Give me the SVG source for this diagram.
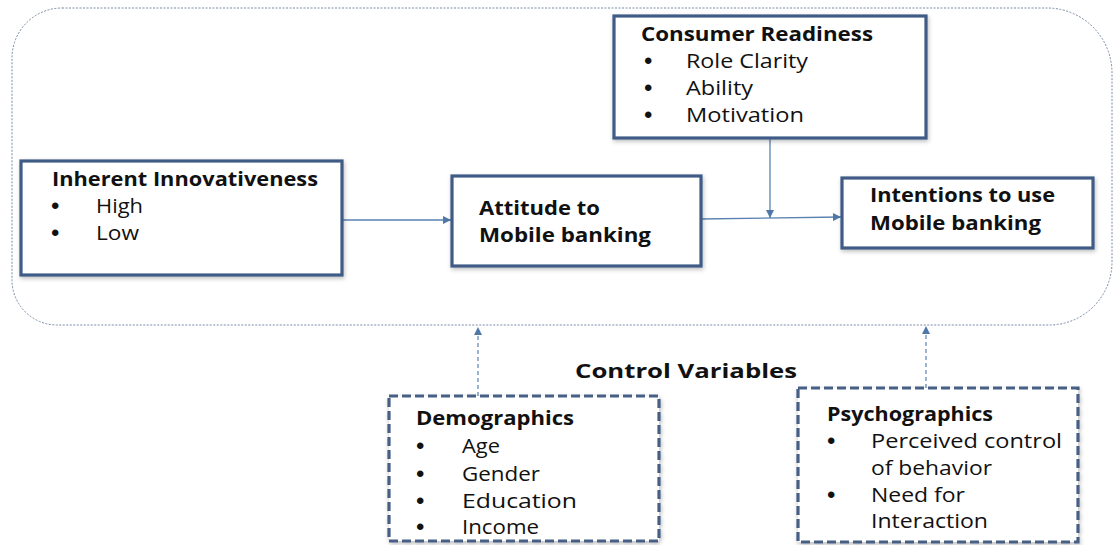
<svg xmlns="http://www.w3.org/2000/svg" width="1113" height="545" viewBox="0 0 1113 545">
<style>
.box{fill:#ffffff;stroke:#3f5c86;stroke-width:3.2;filter:url(#sh)}
.dbox{fill:#ffffff;stroke:#465f84;stroke-width:3.2;stroke-dasharray:9 4;filter:url(#sh)}
.t{font-family:"Open Sans","Liberation Sans",sans-serif;font-size:20px;fill:#111111}
.b{font-weight:bold}
.bu{font-family:"Liberation Sans",sans-serif;font-size:24px;fill:#111111}
.con{fill:none;stroke:#5a82b0;stroke-width:1.3}
.dcon{fill:none;stroke:#5a82b0;stroke-width:1.2;stroke-dasharray:4 3}
</style>
<defs>
<filter id="sh" x="-10%" y="-10%" width="120%" height="130%">
<feDropShadow dx="1" dy="2" stdDeviation="2" flood-color="#000000" flood-opacity="0.25"/>
</filter>
<marker id="ah" viewBox="0 0 10 10" refX="10" refY="5" markerWidth="10" markerHeight="8" markerUnits="userSpaceOnUse" orient="auto">
<path d="M0,0 L10,5 L0,10 Z" fill="#4f78a8"/>
</marker>
</defs>
<path id="frame" d="M62,8 H1047 A65,65 0 0 1 1112,73 V262 A63,63 0 0 1 1049,325 H57 A45,45 0 0 1 12,280 V58 A50,50 0 0 1 62,8 Z" fill="none" stroke="#7a8ba5" stroke-width="1" stroke-dasharray="2 1.5"/>
<g id="connectors">
<line class="con" x1="342" y1="220" x2="451" y2="220" marker-end="url(#ah)"/>
<line class="con" x1="701" y1="219" x2="841" y2="217" marker-end="url(#ah)"/>
<line class="con" x1="770" y1="138" x2="770" y2="218" marker-end="url(#ah)"/>
<line class="dcon" x1="478" y1="396" x2="478" y2="327" marker-end="url(#ah)"/>
<line class="dcon" x1="926" y1="388" x2="926" y2="326" marker-end="url(#ah)"/>
</g>
<g id="inherent">
<rect class="box" x="21" y="161" width="321" height="114"/>
<text class="t b" x="52" y="186" textLength="266" lengthAdjust="spacingAndGlyphs">Inherent Innovativeness</text>
<text class="bu" x="51" y="214">•</text>
<text class="t" x="96" y="213" textLength="47" lengthAdjust="spacingAndGlyphs">High</text>
<text class="bu" x="51" y="241">•</text>
<text class="t" x="96" y="240" textLength="43" lengthAdjust="spacingAndGlyphs">Low</text>
</g>
<g id="readiness">
<rect class="box" x="614" y="16" width="312" height="122"/>
<text class="t b" x="641" y="41" textLength="232" lengthAdjust="spacingAndGlyphs">Consumer Readiness</text>
<text class="bu" x="644" y="69">•</text>
<text class="t" x="686" y="68" textLength="122" lengthAdjust="spacingAndGlyphs">Role Clarity</text>
<text class="bu" x="644" y="96">•</text>
<text class="t" x="686" y="95" textLength="67" lengthAdjust="spacingAndGlyphs">Ability</text>
<text class="bu" x="644" y="123">•</text>
<text class="t" x="686" y="122" textLength="118" lengthAdjust="spacingAndGlyphs">Motivation</text>
</g>
<g id="attitude">
<rect class="box" x="452" y="176" width="249" height="90"/>
<text class="t b" x="479" y="215" textLength="121" lengthAdjust="spacingAndGlyphs">Attitude to</text>
<text class="t b" x="479" y="242" textLength="172" lengthAdjust="spacingAndGlyphs">Mobile banking</text>
</g>
<g id="intentions">
<rect class="box" x="842" y="178" width="251" height="70"/>
<text class="t b" x="870" y="202" textLength="185" lengthAdjust="spacingAndGlyphs">Intentions to use</text>
<text class="t b" x="870" y="230" textLength="171" lengthAdjust="spacingAndGlyphs">Mobile banking</text>
</g>
<text id="control-label" class="t b" x="575" y="378" textLength="222" lengthAdjust="spacingAndGlyphs">Control Variables</text>
<g id="demographics">
<rect class="dbox" x="389" y="396" width="270" height="145"/>
<text class="t b" x="416" y="425" textLength="158" lengthAdjust="spacingAndGlyphs">Demographics</text>
<text class="bu" x="416" y="454">•</text>
<text class="t" x="462" y="453" textLength="38" lengthAdjust="spacingAndGlyphs">Age</text>
<text class="bu" x="416" y="482">•</text>
<text class="t" x="462" y="481" textLength="78" lengthAdjust="spacingAndGlyphs">Gender</text>
<text class="bu" x="416" y="509">•</text>
<text class="t" x="462" y="508" textLength="115" lengthAdjust="spacingAndGlyphs">Education</text>
<text class="bu" x="416" y="535">•</text>
<text class="t" x="462" y="534" textLength="77" lengthAdjust="spacingAndGlyphs">Income</text>
</g>
<g id="psychographics">
<rect class="dbox" x="798" y="388" width="280" height="154"/>
<text class="t b" x="827" y="421" textLength="166" lengthAdjust="spacingAndGlyphs">Psychographics</text>
<text class="bu" x="827" y="449">•</text>
<text class="t" x="871" y="448" textLength="191" lengthAdjust="spacingAndGlyphs">Perceived control</text>
<text class="t" x="871" y="475" textLength="121" lengthAdjust="spacingAndGlyphs">of behavior</text>
<text class="bu" x="827" y="503">•</text>
<text class="t" x="871" y="502" textLength="94" lengthAdjust="spacingAndGlyphs">Need for</text>
<text class="t" x="871" y="528" textLength="117" lengthAdjust="spacingAndGlyphs">Interaction</text>
</g>
</svg>
